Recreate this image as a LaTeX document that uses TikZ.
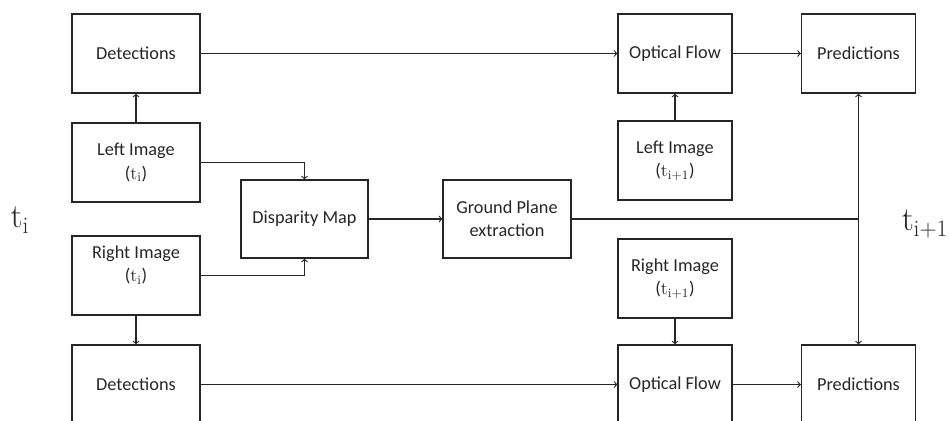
\documentclass[tikz,border=0pt]{standalone}
\usepackage{fontspec}
\setmainfont{Carlito}
\newfontfamily\timefont{Latin Modern Roman}
\newcommand{\tstep}[1]{{\timefont t\textsubscript{#1}}}
\tikzstyle{block} = [rectangle, draw, line width=0.8pt, minimum height=79*0.025cm, minimum width=128*0.025cm, align=center, font=\fontsize{13}{16.4}\selectfont]
\tikzstyle{smallblock} = [block, minimum width=114*0.025cm]
\tikzstyle{link} = [->, line width=0.8pt]
\tikzstyle{every node}=[text=black!85]

\begin{document}
\begin{tikzpicture}[x=0.025cm, y=-0.025cm, color=black!85]
	\clip (0,0) rectangle (949,421);
	\node[block] (det1) at (136,53.5) {Detections};
	\node[block] (limg) at (136,162.5) {Left Image\\(\tstep{i})};
	\node[block] (rimg) at (136,275.5) {Right Image\\(\tstep{i})\\\mbox{}};
	\node[block] (det2) at (136,384.5) {Detections};
	\node[block, minimum width=127*0.025cm, minimum height=78*0.025cm] (disp) at (304.5,219) {Disparity Map};
	\node[block, minimum height=78*0.025cm] (ground) at (507,219) {Ground Plane\\extraction};
	\node[smallblock] (flow1) at (675,53.5) {Optical Flow};
	\node[smallblock] (limg2) at (675,160.5) {Left Image\\(\tstep{i+1})};
	\node[smallblock] (rimg2) at (675,278.5) {Right Image\\(\tstep{i+1})};
	\node[smallblock] (flow2) at (675,384.5) {Optical Flow};
	\node[smallblock] (pred1) at (858.5,53.5) {Predictions};
	\node[smallblock] (pred2) at (858.5,384.5) {Predictions};
	\node (ti) at (20,220) {\fontsize{24}{28}\selectfont\tstep{i}};
	\node (tnext) at (925,224) {\fontsize{24}{28}\selectfont\tstep{i+1}};

	\draw[link] (limg) -- (det1);
	\draw[link] (rimg) -- (det2);
	\draw[link] (limg.east) -| (disp.north);
	\draw[link] (rimg.east) -| (disp.south);
	\draw[link] (disp) -- (ground);
	\draw[link] (det1) -- (flow1);
	\draw[link] (det2) -- (flow2);
	\draw[link] (limg2) -- (flow1);
	\draw[link] (rimg2) -- (flow2);
	\draw[link] (flow1) -- (pred1);
	\draw[link] (flow2) -- (pred2);
	\coordinate (joint) at (ground.east -| pred1.south);
	\draw[line width=0.8pt] (ground.east) -- (joint);
	\draw[link, <->] (pred1) -- (pred2);
\end{tikzpicture}
\end{document}
